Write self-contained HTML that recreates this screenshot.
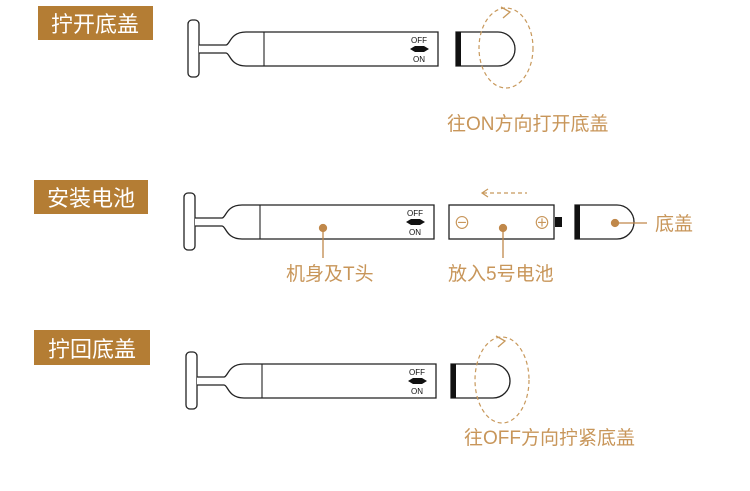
<!DOCTYPE html>
<html><head><meta charset="utf-8"><style>
body{margin:0;background:#fff;width:750px;height:491px;overflow:hidden}
svg{display:block}
.p{font-family:"Liberation Sans","Noto Sans CJK SC",sans-serif}
</style></head><body>
<svg width="750" height="491" viewBox="0 0 750 491" xmlns="http://www.w3.org/2000/svg" class="p">
<defs>
<g id="dev">
  <rect x="0" y="-29" width="11" height="57" rx="4" fill="#fff" stroke="#222" stroke-width="1.3"/>
  <path d="M11,-4 L38,-4 C42,-4 42,-17 58,-17 L250,-17 L250,17 L58,17 C42,17 42,4 38,4 L11,4" fill="#fff" stroke="#222" stroke-width="1.3"/>
  <line x1="76" y1="-17" x2="76" y2="17" stroke="#222" stroke-width="1.1"/>
  <text x="231" y="-6" font-size="8" text-anchor="middle" fill="#111">OFF</text>
  <path d="M222,0 L227,-3 L236,-3 L241,0 L236,3 L227,3 Z" fill="#111"/>
  <text x="231" y="13" font-size="8" text-anchor="middle" fill="#111">ON</text>
</g>
<g id="cap">
  <path d="M0,-17 L42,-17 A17,17 0 0 1 42,17 L0,17 Z" fill="#fff" stroke="#222" stroke-width="1.3"/>
  <rect x="0" y="-17" width="5" height="34" fill="#111"/>
</g>
</defs>
<g fill="#b47d34">
<rect x="38" y="6" width="115" height="34"/>
<rect x="34" y="180" width="114" height="34"/>
<rect x="34" y="330" width="116" height="35"/>
</g>
<g fill="#fff" font-size="22">
<text x="95" y="32" text-anchor="middle">拧开底盖</text>
<text x="91" y="206" text-anchor="middle">安装电池</text>
<text x="92" y="357" text-anchor="middle">拧回底盖</text>
</g>
<!-- top -->
<use href="#dev" x="188" y="49"/>
<use href="#cap" x="456" y="49"/>
<ellipse cx="506" cy="48" rx="27" ry="40" fill="none" stroke="#c8995c" stroke-width="1.2" stroke-dasharray="4,3"/>
<path d="M501,7 L510,12 L503,18" fill="none" stroke="#c8995c" stroke-width="1.3"/>
<text x="447" y="130" font-size="19" fill="#c8965a">往ON方向打开底盖</text>
<!-- middle -->
<use href="#dev" x="184" y="222"/>
<rect x="449" y="205" width="105" height="34" fill="#fff" stroke="#222" stroke-width="1.3"/>
<rect x="555" y="217" width="7" height="10" fill="#111"/>
<text x="462" y="229" font-size="17" fill="#c8965a" text-anchor="middle">⊖</text>
<text x="542" y="229" font-size="17" fill="#c8965a" text-anchor="middle">⊕</text>
<use href="#cap" x="575" y="222"/>
<line x1="483" y1="193" x2="527" y2="193" stroke="#c8995c" stroke-width="1.2" stroke-dasharray="4,3"/>
<path d="M488,189 L482,193 L488,197" fill="none" stroke="#c8995c" stroke-width="1.2"/>
<g fill="#c0884a" stroke="#c0884a" stroke-width="1.3">
<circle cx="323" cy="228" r="3.5"/><line x1="323" y1="228" x2="323" y2="258"/>
<circle cx="503" cy="228" r="3.5"/><line x1="503" y1="228" x2="503" y2="258"/>
<circle cx="615" cy="223" r="3.5"/><line x1="615" y1="223" x2="647" y2="223"/>
</g>
<g font-size="19" fill="#c8965a">
<text x="286" y="280">机身及T头</text>
<text x="448" y="280">放入5号电池</text>
<text x="655" y="230">底盖</text>
</g>
<!-- bottom -->
<use href="#dev" x="186" y="381"/>
<use href="#cap" x="451" y="381"/>
<ellipse cx="502" cy="380" rx="27" ry="43" fill="none" stroke="#c8995c" stroke-width="1.2" stroke-dasharray="4,3"/>
<path d="M496,336 L505,341 L498,347" fill="none" stroke="#c8995c" stroke-width="1.3"/>
<text x="464" y="444" font-size="19" fill="#c8965a">往OFF方向拧紧底盖</text>
</svg>
</body></html>
